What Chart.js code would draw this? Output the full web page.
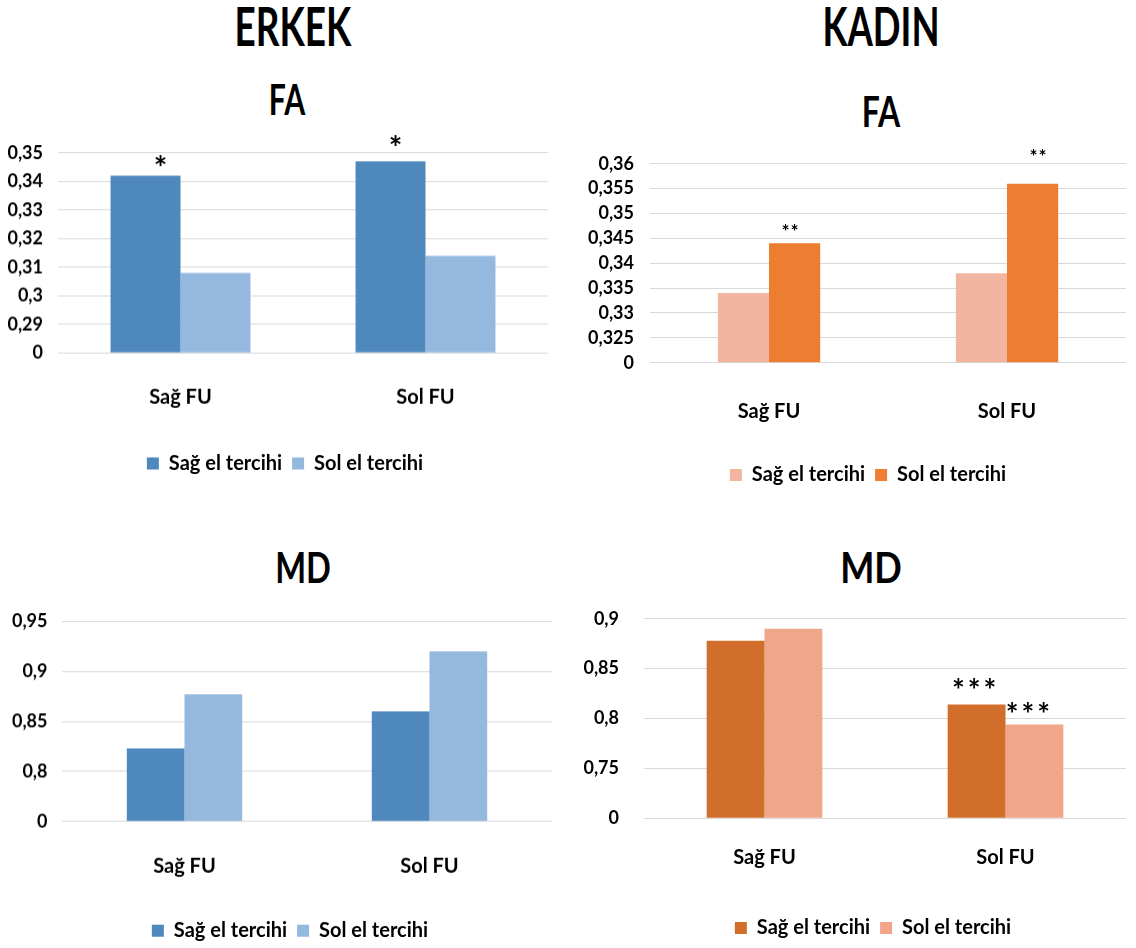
<!DOCTYPE html>
<html>
<head>
<meta charset="utf-8">
<script src="https://cdn.jsdelivr.net/npm/chart.js@4.4.1/dist/chart.umd.min.js"></script>
<style>
  html, body { margin: 0; padding: 0; background: #fff; width: 1136px; height: 948px; overflow: hidden; }
  .head {
    position: absolute; margin: 0; color: #000;
    font-family: Lato, "Liberation Sans", sans-serif; font-weight: bold;
    white-space: nowrap; transform-origin: center top;
  }
  .big { font-size: 54px; line-height: 54px; }
  .sub { font-size: 42px; line-height: 42px; }
  .panel { position: absolute; }
</style>
</head>
<body>
<div class="head big" style="left:293px;top:-1px" data-w="117">ERKEK</div>
<div class="head big" style="left:881px;top:-1px" data-w="117">KADIN</div>
<div class="head sub" style="left:287px;top:78px" data-w="36">FA</div>
<div class="head sub" style="left:881px;top:90px" data-w="38">FA</div>
<div class="head sub" style="left:303px;top:546px" data-w="56">MD</div>
<div class="head sub" style="left:871px;top:546px" data-w="62">MD</div>

<div class="panel" style="left:0px;top:127.4px;width:560px;height:362.6px"><canvas id="erkekFa"></canvas></div>
<div class="panel" style="left:580px;top:137px;width:556px;height:363px"><canvas id="kadinFa"></canvas></div>
<div class="panel" style="left:0px;top:596.2px;width:566px;height:353.8px"><canvas id="erkekMd"></canvas></div>
<div class="panel" style="left:580px;top:583px;width:556px;height:365px"><canvas id="kadinMd"></canvas></div>

<script>
const FONT = 'Lato, "Liberation Sans", sans-serif';

// Condensed headings: centre each one and narrow it to its set width
document.querySelectorAll('.head').forEach(el => {
  const k = Number(el.dataset.w) / el.offsetWidth;
  el.style.transform = 'translateX(-50%) scaleX(' + k.toFixed(3) + ')';
});

// Shared categories and series names
const categories = ['Sağ FU', 'Sol FU'];
const seriesNames = ['Sağ el tercihi', 'Sol el tercihi'];

// ERKEK – FA
const erkekFaSag = [0.342, 0.347];
const erkekFaSol = [0.308, 0.314];
const erkekFaTicks = ['0', '0,29', '0,3', '0,31', '0,32', '0,33', '0,34', '0,35'];
const erkekFaStarsSag = ['*', '*'];

// KADIN – FA
const kadinFaSag = [0.334, 0.338];
const kadinFaSol = [0.344, 0.356];
const kadinFaTicks = ['0', '0,325', '0,33', '0,335', '0,34', '0,345', '0,35', '0,355', '0,36'];
const kadinFaStarsSol = ['**', '**'];

// ERKEK – MD
const erkekMdSag = [0.823, 0.860];
const erkekMdSol = [0.877, 0.920];
const erkekMdTicks = ['0', '0,8', '0,85', '0,9', '0,95'];

// KADIN – MD
const kadinMdSag = [0.878, 0.814];
const kadinMdSol = [0.890, 0.794];
const kadinMdTicks = ['0', '0,75', '0,8', '0,85', '0,9'];
const kadinMdStarsSag = ['', '***'];
const kadinMdStarsSol = ['', '***'];

// Significance marks written above the bars of a dataset
function starPlugin(cfg) {
  return {
    id: 'stars',
    afterDatasetsDraw(chart) {
      const ctx = chart.ctx;
      cfg.marks.forEach(m => {
        const meta = chart.getDatasetMeta(m.dataset);
        meta.data.forEach((bar, i) => {
          const t = m.text[i];
          if (!t) return;
          ctx.save();
          ctx.font = 'bold ' + cfg.size + 'px ' + FONT;
          ctx.fillStyle = '#000';
          ctx.textAlign = 'center';
          ctx.textBaseline = 'middle';
          if (cfg.spacing) ctx.letterSpacing = cfg.spacing + 'px';
          ctx.fillText(t, bar.x + m.dx[i], bar.y - m.gap[i]);
          ctx.restore();
        });
      });
    }
  };
}

// Moves the legend sideways after the layout pass
function legendShift(dx) {
  return {
    id: 'legendShift',
    afterLayout(chart) {
      if (chart.legend) {
        chart.legend.left += dx;
        chart.legend.right += dx;
      }
    }
  };
}

function buildChart(id, p) {
  return new Chart(document.getElementById(id), {
    type: 'bar',
    data: {
      labels: categories,
      datasets: [
        { label: seriesNames[0], data: p.sag, backgroundColor: p.colors[0], base: p.min },
        { label: seriesNames[1], data: p.sol, backgroundColor: p.colors[1], base: p.min }
      ]
    },
    options: {
      responsive: true,
      maintainAspectRatio: false,
      animation: false,
      events: [],
      datasets: { bar: { barPercentage: 1, categoryPercentage: p.groupWidth, borderWidth: 0 } },
      layout: { padding: p.padding },
      scales: {
        x: {
          grid: { display: false, drawTicks: false },
          border: { display: false },
          ticks: { color: '#000', font: { family: FONT, size: 20, weight: 'bold' }, padding: p.xPad },
          afterFit(s) { s.height = p.xHeight; }
        },
        y: {
          min: p.min,
          max: p.max,
          grid: { color: '#D9D9D9', lineWidth: 1, drawTicks: false },
          border: { display: false },
          ticks: {
            count: p.ticks.length,
            color: '#000',
            font: { family: FONT, size: 18, weight: 'bold' },
            padding: p.yPad,
            callback: (v, i) => p.ticks[i]
          },
          afterFit(s) { s.width = p.yWidth; }
        }
      },
      plugins: {
        title: { display: false },
        legend: {
          position: 'bottom',
          labels: {
            color: '#000',
            boxWidth: 12,
            boxHeight: 12,
            padding: 10,
            font: { family: FONT, size: 20, weight: 'bold' }
          }
        },
        tooltip: { enabled: false }
      }
    },
    plugins: [starPlugin(p.stars), legendShift(p.legendDx)]
  });
}

buildChart('erkekFa', {
  sag: erkekFaSag, sol: erkekFaSol, ticks: erkekFaTicks,
  min: 0.28, max: 0.35, colors: ['#4F88BD', '#95B8DE'], groupWidth: 0.571,
  padding: { left: 0, right: 12, top: 10, bottom: 7 },
  yWidth: 58, yPad: 15, xHeight: 90.3, xPad: 32, legendDx: 11,
  stars: { size: 32, marks: [{ dataset: 0, text: erkekFaStarsSag, dx: [15, 5], gap: [6, 12] }] }
});

buildChart('kadinFa', {
  sag: kadinFaSag, sol: kadinFaSol, ticks: kadinFaTicks,
  min: 0.32, max: 0.36, colors: ['#F2B5A0', '#ED7D31'], groupWidth: 0.43,
  padding: { left: 0, right: 10, top: 10, bottom: 5 },
  yWidth: 70, yPad: 16, xHeight: 92.3, xPad: 37.3, legendDx: 15,
  stars: { size: 19, spacing: 1, marks: [{ dataset: 1, text: kadinFaStarsSol, dx: [-4, 6], gap: [11, 27] }] }
});

buildChart('erkekMd', {
  sag: erkekMdSag, sol: erkekMdSol, ticks: erkekMdTicks,
  min: 0.75, max: 0.95, colors: ['#4F88BD', '#95B8DE'], groupWidth: 0.471,
  padding: { left: 0, right: 14, top: 10, bottom: 0 },
  yWidth: 62, yPad: 14.5, xHeight: 89, xPad: 33, legendDx: 14,
  stars: { marks: [] }
});

buildChart('kadinMd', {
  sag: kadinMdSag, sol: kadinMdSol, ticks: kadinMdTicks,
  min: 0.70, max: 0.90, colors: ['#D26E2B', '#F0A688'], groupWidth: 0.48,
  padding: { left: 0, right: 10, top: 10, bottom: 0 },
  yWidth: 64, yPad: 25, xHeight: 89.7, xPad: 27.7, legendDx: 20,
  stars: { size: 30, spacing: 3, marks: [
    { dataset: 0, text: kadinMdStarsSag, dx: [0, -1], gap: [13, 13] },
    { dataset: 1, text: kadinMdStarsSol, dx: [0, -5], gap: [9, 9] }
  ] }
});
</script>
</body>
</html>
